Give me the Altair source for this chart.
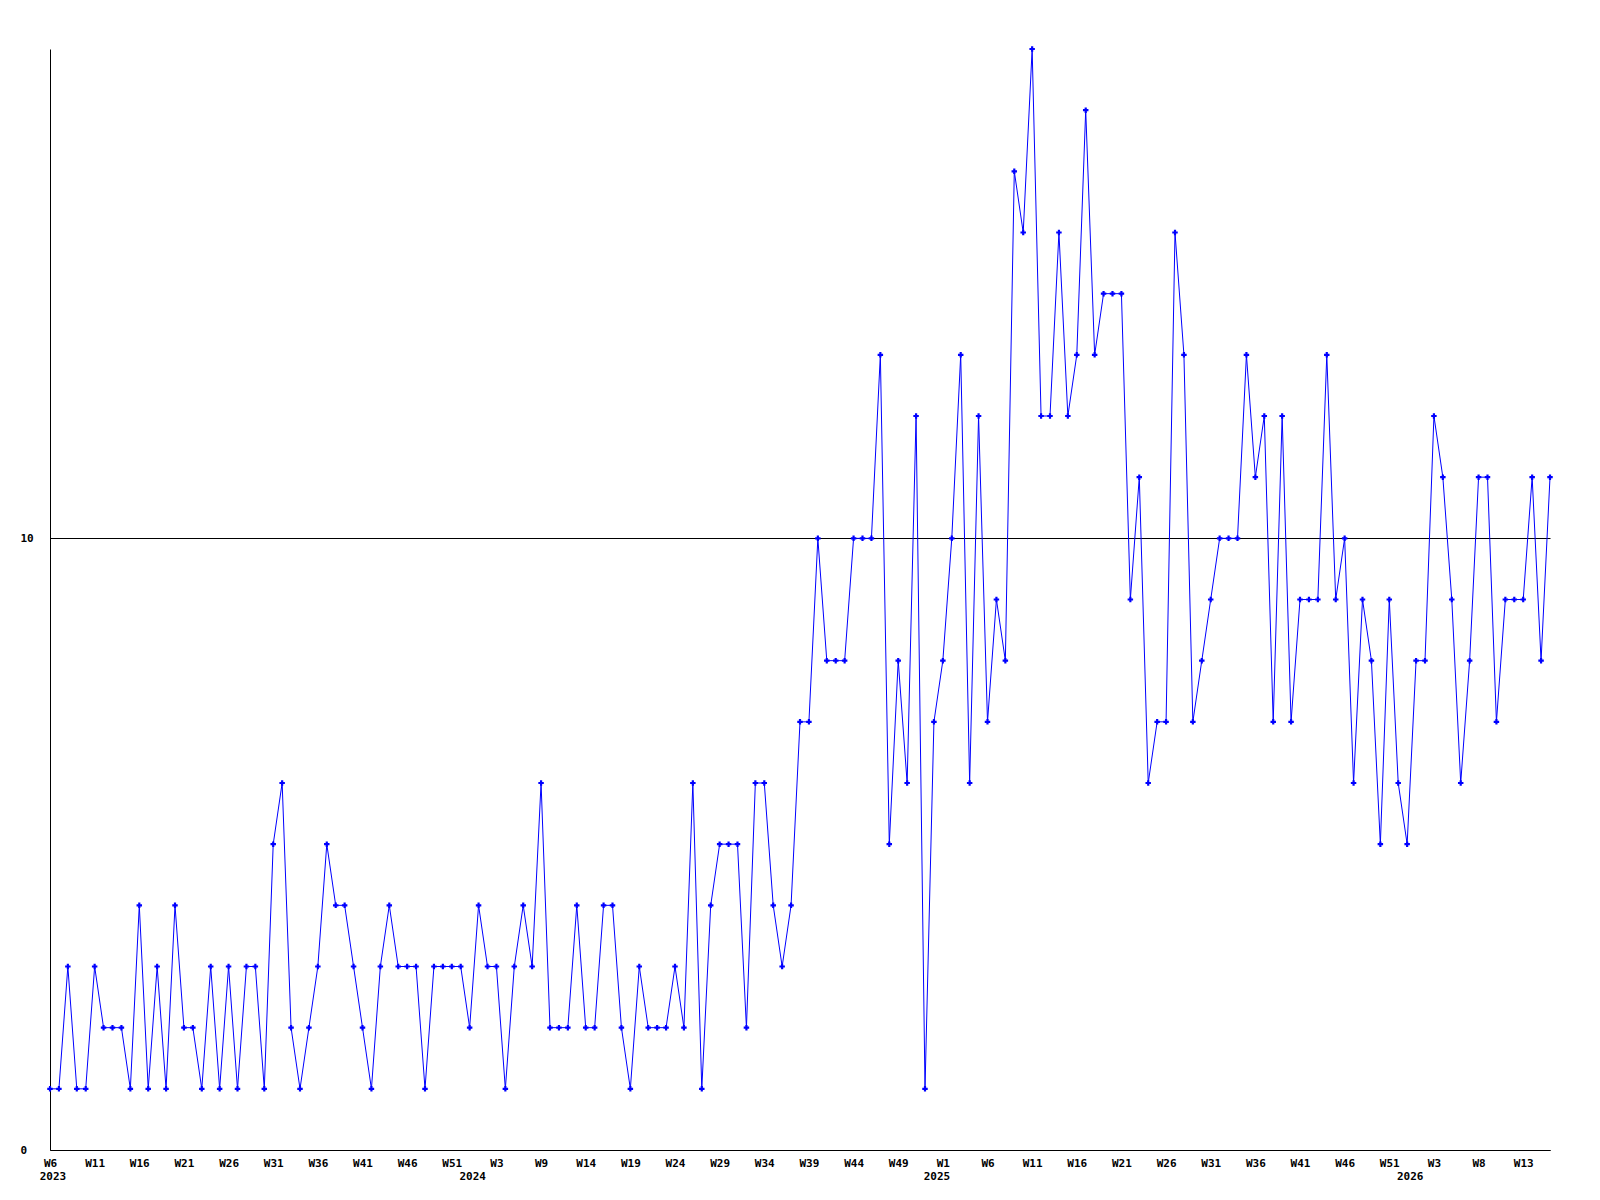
import altair as alt
import pandas as pd

# Weekly values, 2023 W6 onwards (one per week)
values = [
    1, 1, 3, 1, 1, 3, 2, 2, 2, 1, 4, 1, 3, 1, 4, 2, 2, 1, 3, 1, 3, 1,
    3, 3, 1, 5, 6, 2, 1, 2, 3, 5, 4, 4, 3, 2, 1, 3, 4, 3, 3, 3, 1,
    3, 3, 3, 3, 2, 4, 3, 3, 1, 3, 4, 3, 6, 2, 2, 2, 4, 2, 2, 4, 4, 2,
    1, 3, 2, 2, 2, 3, 2, 6, 1, 4, 5, 5, 5, 2, 6, 6, 4, 3, 4,
    7, 7, 10, 8, 8, 8, 10, 10, 10, 13, 5, 8, 6, 12, 1, 7, 8, 10, 13, 6, 12, 7,
    9, 8, 16, 15, 18, 12, 12, 15, 12, 13, 17, 13, 14, 14, 14, 9, 11, 6, 7, 7, 15, 13,
    7, 8, 9, 10, 10, 10, 13, 11, 12, 7, 12, 7, 9, 9, 9, 13, 9, 10, 6, 9, 8, 5,
    9, 6, 5, 8, 8, 12, 11, 9, 6, 8, 11, 11, 7, 9, 9, 9, 11, 8, 11,
]

# Tick labels (every 5th point)
week_labels = [
    "W6", "W11", "W16", "W21", "W26", "W31", "W36", "W41", "W46", "W51",
    "W3", "W9", "W14", "W19", "W24", "W29", "W34", "W39", "W44", "W49",
    "W1", "W6", "W11", "W16", "W21", "W26", "W31", "W36", "W41", "W46", "W51",
    "W3", "W8", "W13",
]
tick_step = 5

# Year labels and the point index where each year starts
years = ["2023", "2024", "2025", "2026"]
year_index = [0, 47, 99, 152]

y_ticks = [0, 10]

df = pd.DataFrame({"i": list(range(len(values))), "v": values})
ticks = [k * tick_step for k in range(len(week_labels))]
label_map = {str(t): l for t, l in zip(ticks, week_labels)}
label_expr = "{" + ",".join(f'"{k}":"{v}"' for k, v in label_map.items()) + "}[datum.value]"

years_df = pd.DataFrame({"i": year_index, "year": years})

FONT = "DejaVu Sans Mono"
W, H = 1500, 1101
N = len(values) - 1

x_scale = alt.Scale(domain=[0, N], nice=False, zero=False)

x_enc = alt.X(
    "i:Q",
    scale=x_scale,
    axis=alt.Axis(
        values=ticks,
        labelExpr=label_expr,
        title=None,
        grid=False,
        ticks=False,
        tickSize=0,
        labelPadding=7,
        labelFont=FONT,
        labelFontWeight="bold",
        labelFontSize=11,
        labelColor="black",
        labelAlign="center",
        labelBaseline="top",
        labelOverlap=False,
        labelFlush=False,
        domainColor="black",
        domainWidth=1,
    ),
)
y_enc = alt.Y(
    "v:Q",
    scale=alt.Scale(domain=[0, 18], nice=False),
    axis=alt.Axis(
        values=y_ticks,
        format="d",
        title=None,
        grid=True,
        gridColor="black",
        gridOpacity=1,
        gridWidth=1,
        ticks=False,
        tickSize=0,
        labelPadding=30,
        labelAlign="left",
        labelBaseline="middle",
        labelFont=FONT,
        labelFontWeight="bold",
        labelFontSize=11,
        labelColor="black",
        domainColor="black",
        domainWidth=1,
    ),
)

line = alt.Chart(df).mark_line(color="#0000ff", strokeWidth=1).encode(x=x_enc, y=y_enc)
pts = alt.Chart(df).mark_point(
    shape="cross", filled=True, size=30, color="#0000ff", opacity=1
).encode(x=alt.X("i:Q", scale=x_scale), y=alt.Y("v:Q"))

year_text = alt.Chart(years_df).mark_text(
    font=FONT, fontWeight="bold", fontSize=11, color="black",
    align="center", baseline="middle", dx=3,
).encode(
    x=alt.X("i:Q", scale=x_scale),
    y=alt.value(H + 27),
    text="year:N",
)

chart = (
    alt.layer(line, pts, year_text)
    .properties(
        width=W,
        height=H,
        autosize=alt.AutoSizeParams(type="none"),
        padding={"left": 42, "top": 41, "right": 20, "bottom": 40},
        background="white",
    )
    .configure_view(stroke=None)
)

chart.save("out.html", embed_options={"renderer": "svg", "actions": False})
